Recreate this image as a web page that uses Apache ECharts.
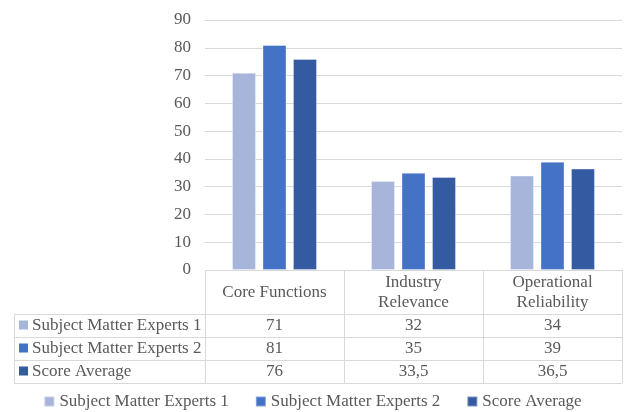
<!DOCTYPE html>
<html>
<head>
<meta charset="utf-8">
<script src="https://cdn.jsdelivr.net/npm/echarts@6/dist/echarts.min.js"></script>
<style>
  html, body { margin: 0; padding: 0; background: #fff; }
  #main { width: 625px; height: 412px; }
</style>
</head>
<body>
<div id="main"></div>
<script>
// data
var categories = ['Core Functions', 'Industry\nRelevance', 'Operational\nReliability'];
var seriesNames = ['Subject Matter Experts 1', 'Subject Matter Experts 2', 'Score Average'];
var sme1 = [71, 32, 34];
var sme2 = [81, 35, 39];
var scoreAvg = [76, 33.5, 36.5];
var yTicks = [0, 10, 20, 30, 40, 50, 60, 70, 80, 90];

var colors = ['#a7b5da', '#4472c4', '#345ba1'];
var font = '"Liberation Serif", "Times New Roman", serif';
var textColor = '#595959';
var lineColor = '#d9d9d9';

var chart = echarts.init(document.getElementById('main'));
var allValues = [sme1, sme2, scoreAvg];

var series = [];
for (var i = 0; i < seriesNames.length; i++) {
    series.push({
        name: seriesNames[i],
        type: 'bar',
        data: allValues[i],
        barWidth: 24,
        barGap: '27%',
        itemStyle: { color: colors[i], borderColor: 'rgba(255,255,255,0.35)', borderWidth: 1 }
    });
}

var option = {
    animation: false,
    color: colors,
    grid: { left: 205, right: 3, top: 20, bottom: 142 },
    legend: {
        top: 388,
        left: 'center',
        icon: 'rect',
        itemWidth: 10,
        itemHeight: 10,
        itemGap: 26,
        textStyle: { fontFamily: font, fontSize: 17, color: textColor },
        data: seriesNames
    },
    xAxis: {
        type: 'category',
        data: categories,
        axisLine: { show: false },
        axisTick: { show: false },
        axisLabel: { show: false }
    },
    yAxis: {
        type: 'value',
        min: yTicks[0],
        max: yTicks[yTicks.length - 1],
        interval: 10,
        axisLine: { show: false },
        axisTick: { show: false },
        axisLabel: { fontFamily: font, fontSize: 17, color: textColor, margin: 14 },
        splitLine: { lineStyle: { color: lineColor, width: 1 } }
    },
    series: series
};
chart.setOption(option);

// data table under the plot
function buildTable() {
    var c0 = chart.convertToPixel({ xAxisIndex: 0 }, 0);
    var c1 = chart.convertToPixel({ xAxisIndex: 0 }, 1);
    var cw = c1 - c0;
    var left = c0 - cw / 2;
    var right = left + cw * categories.length;
    var top = chart.convertToPixel({ yAxisIndex: 0 }, 0);
    var tableLeft = 14;
    var headerH = 44;
    var rowH = 23;
    var bottom = top + headerH + rowH * seriesNames.length;
    var els = [];
    var ls = { stroke: lineColor, lineWidth: 1 };

    // horizontal lines
    els.push({ type: 'line', shape: { x1: left, y1: top + 0.5, x2: right, y2: top + 0.5 }, style: ls });
    for (var r = 0; r <= seriesNames.length; r++) {
        var y = Math.round(top + headerH + r * rowH) + 0.5;
        els.push({ type: 'line', shape: { x1: tableLeft, y1: y, x2: right, y2: y }, style: ls });
    }
    // vertical lines
    els.push({ type: 'line', shape: { x1: tableLeft + 0.5, y1: top + headerH, x2: tableLeft + 0.5, y2: bottom }, style: ls });
    for (var k = 0; k <= categories.length; k++) {
        var x = Math.round(left + k * cw) + 0.5;
        els.push({ type: 'line', shape: { x1: x, y1: top, x2: x, y2: bottom }, style: ls });
    }
    // header labels
    for (var j = 0; j < categories.length; j++) {
        els.push({
            type: 'text',
            x: left + (j + 0.5) * cw, y: top + headerH / 2 + 1,
            style: { text: categories[j], font: '17px ' + font, fill: textColor, align: 'center', verticalAlign: 'middle', lineHeight: 20 }
        });
    }
    // rows
    for (var s = 0; s < seriesNames.length; s++) {
        var cy = top + headerH + (s + 0.5) * rowH;
        els.push({ type: 'rect', shape: { x: tableLeft + 5, y: cy - 5, width: 9, height: 9 }, style: { fill: colors[s] } });
        els.push({
            type: 'text', x: tableLeft + 18, y: cy,
            style: { text: seriesNames[s], font: '17px ' + font, fill: textColor, align: 'left', verticalAlign: 'middle' }
        });
        for (var j2 = 0; j2 < categories.length; j2++) {
            els.push({
                type: 'text', x: left + (j2 + 0.5) * cw, y: cy,
                style: { text: String(allValues[s][j2]).replace('.', ','), font: '17px ' + font, fill: textColor, align: 'center', verticalAlign: 'middle' }
            });
        }
    }
    chart.setOption({ graphic: { elements: els } });
}
buildTable();
</script>
</body>
</html>
